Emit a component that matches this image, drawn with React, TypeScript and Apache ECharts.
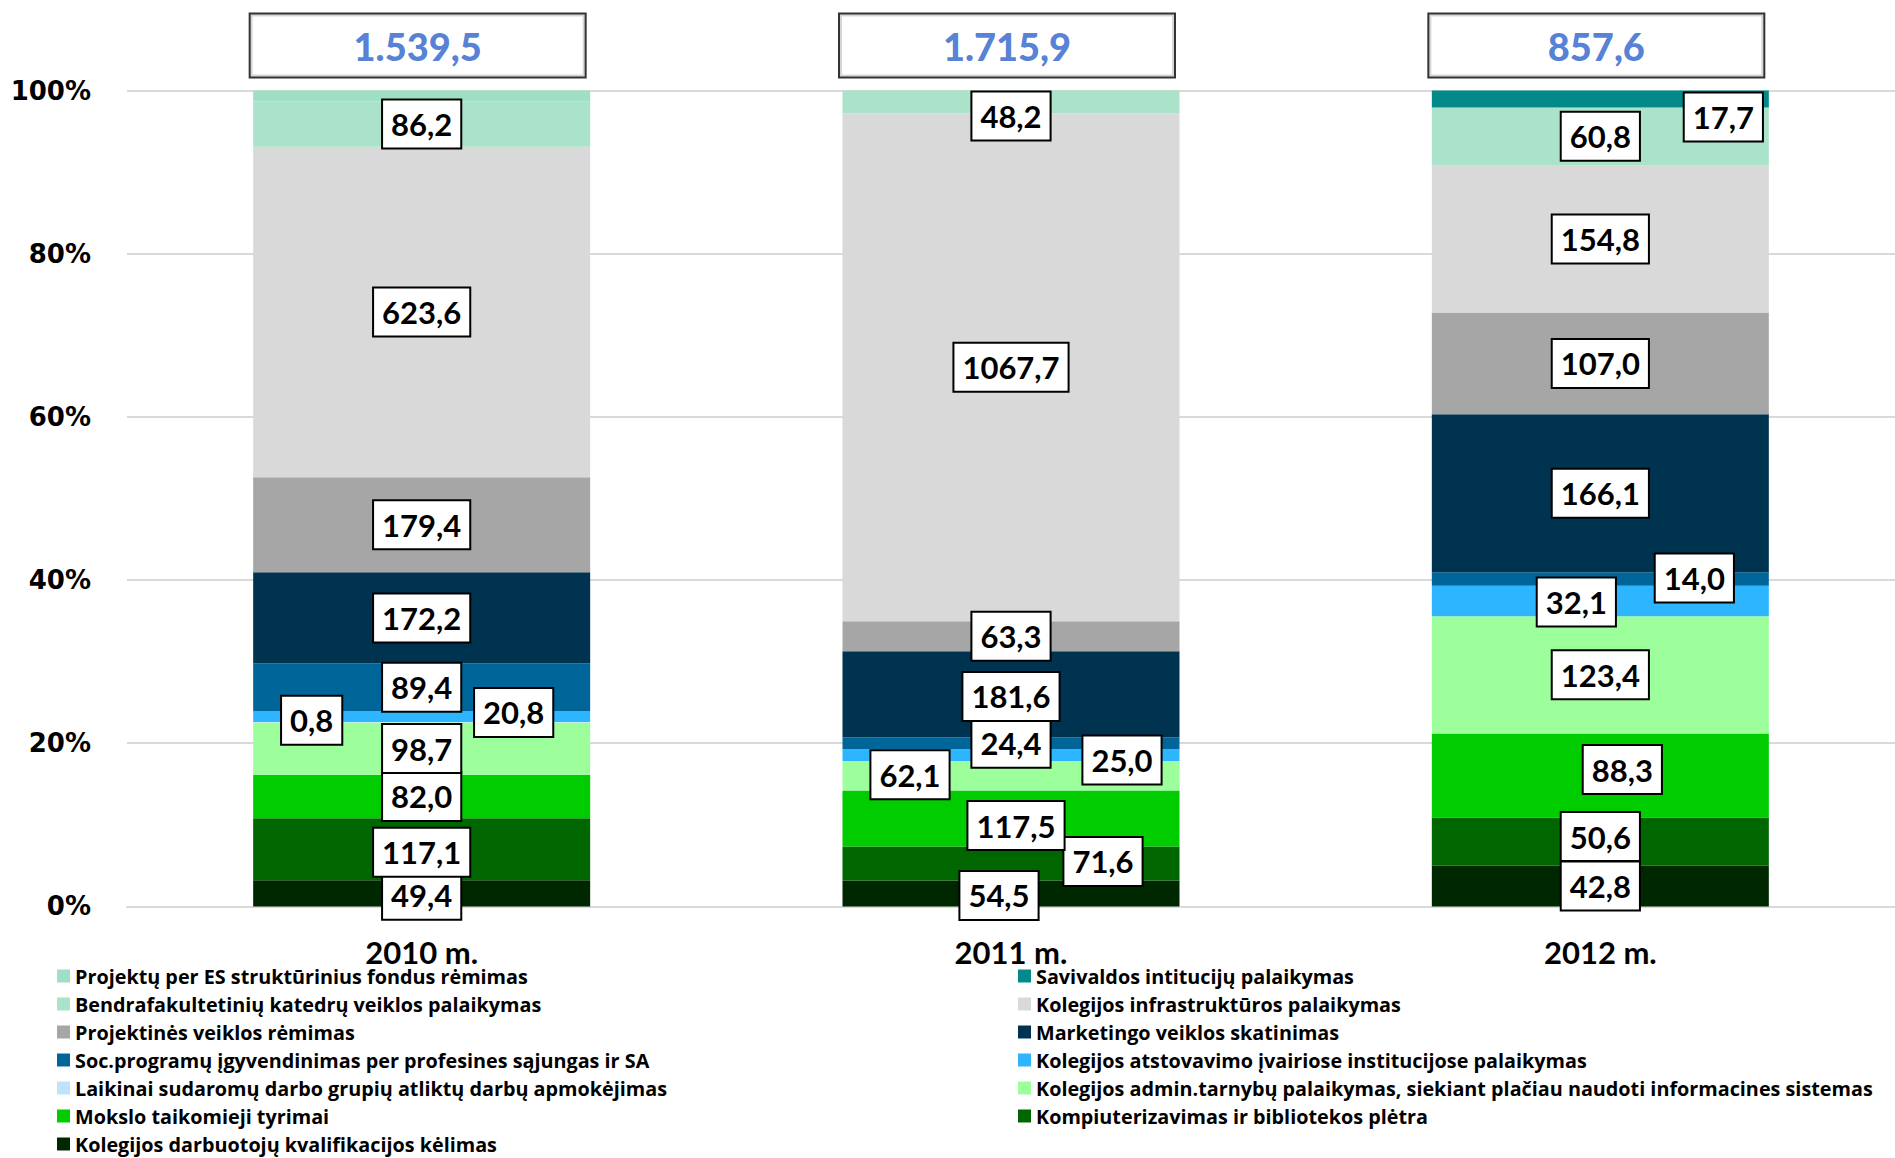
import React, { useEffect, useRef } from "react";
import * as echarts from "echarts";

const YEARS = ["2010 m.", "2011 m.", "2012 m."];
const TOTALS = [1539.5, 1715.9, 857.6];

// series, bottom of the stack first
const darbuotojuKvalifikacija = [49.4, 54.5, 42.8];
const kompiuterizavimas = [117.1, 71.6, 50.6];
const moksloTyrimai = [82.0, 117.5, 88.3];
const adminTarnybos = [98.7, 62.1, 123.4];
const laikinosGrupes = [0.8, 0, 0];
const atstovavimas = [20.8, 25.0, 32.1];
const socProgramos = [89.4, 24.4, 14.0];
const marketingas = [172.2, 181.6, 166.1];
const projektineVeikla = [179.4, 63.3, 107.0];
const infrastruktura = [623.6, 1067.7, 154.8];
const bendrafakultetines = [86.2, 48.2, 60.8];
const savivalda = [0, 0, 17.7];
const esProjektai = [19.9, 0, 0];

const SERIES = [
  { name: "Kolegijos darbuotojų kvalifikacijos kėlimas", data: darbuotojuKvalifikacija, color: "#002800" },
  { name: "Kompiuterizavimas ir bibliotekos plėtra", data: kompiuterizavimas, color: "#006600" },
  { name: "Mokslo taikomieji tyrimai", data: moksloTyrimai, color: "#00CC00" },
  { name: "Kolegijos admin.tarnybų palaikymas, siekiant plačiau naudoti informacines sistemas", data: adminTarnybos, color: "#9CFF9C" },
  { name: "Laikinai sudaromų darbo grupių atliktų darbų apmokėjimas", data: laikinosGrupes, color: "#BDE4FA" },
  { name: "Kolegijos atstovavimo įvairiose institucijose palaikymas", data: atstovavimas, color: "#2DB6FF" },
  { name: "Soc.programų įgyvendinimas per profesines sąjungas ir SA", data: socProgramos, color: "#006699" },
  { name: "Marketingo veiklos skatinimas", data: marketingas, color: "#003350" },
  { name: "Projektinės veiklos rėmimas", data: projektineVeikla, color: "#A6A6A6" },
  { name: "Kolegijos infrastruktūros palaikymas", data: infrastruktura, color: "#D9D9D9" },
  { name: "Bendrafakultetinių katedrų veiklos palaikymas", data: bendrafakultetines, color: "#ABE3CA" },
  { name: "Savivaldos intitucijų palaikymas", data: savivalda, color: "#03898A" },
  { name: "Projektų per ES struktūrinius fondus rėmimas", data: esProjektai, color: "#9FDFC3" },
];

const LEGEND_LEFT = [
  "Projektų per ES struktūrinius fondus rėmimas",
  "Bendrafakultetinių katedrų veiklos palaikymas",
  "Projektinės veiklos rėmimas",
  "Soc.programų įgyvendinimas per profesines sąjungas ir SA",
  "Laikinai sudaromų darbo grupių atliktų darbų apmokėjimas",
  "Mokslo taikomieji tyrimai",
  "Kolegijos darbuotojų kvalifikacijos kėlimas",
];
const LEGEND_RIGHT = [
  "Savivaldos intitucijų palaikymas",
  "Kolegijos infrastruktūros palaikymas",
  "Marketingo veiklos skatinimas",
  "Kolegijos atstovavimo įvairiose institucijose palaikymas",
  "Kolegijos admin.tarnybų palaikymas, siekiant plačiau naudoti informacines sistemas",
  "Kompiuterizavimas ir bibliotekos plėtra",
];

// label placement tweaks: [seriesIndex, yearIndex, dx, dy]
const LABEL_OFFSETS: [number, number, number, number][] = [
  [0, 0, 0, 2],
  [1, 0, 0, 3],
  [4, 0, -110, -2],
  [5, 0, 92, -4],
  [0, 1, -12, 2],
  [1, 1, 92, -2],
  [2, 1, 5, 7],
  [3, 1, -101, -1],
  [5, 1, 111, 5],
  [7, 1, 0, 2],
  [10, 1, 0, 14],
  [1, 2, 0, -5],
  [2, 2, 22, -6],
  [5, 2, -24, 1],
  [6, 2, 94, -1],
  [11, 2, 123, 18],
];
const HIDDEN_LABELS: [number, number][] = [[12, 0]];

const fmtValue = (v: number) => v.toFixed(1).replace(".", ",");
const fmtTotal = (v: number) => {
  const [i, d] = v.toFixed(1).split(".");
  return i.replace(/\B(?=(\d{3})+(?!\d))/g, ".") + "," + d;
};

const LABEL_FONT = "Lato, 'Open Sans', sans-serif";

export default function App() {
  const ref = useRef<HTMLDivElement>(null);

  useEffect(() => {
    document.body.style.margin = "0";
    if (!ref.current) return;
    const chart = echarts.init(ref.current, null, { renderer: "svg" });

    const barSeries = SERIES.map((s, si) => ({
      name: s.name,
      type: "bar",
      stack: "total",
      barWidth: 337,
      itemStyle: { color: s.color },
      label: {
        show: true,
        position: "inside",
        formatter: (p: any) => fmtValue(p.data.raw),
        color: "#000",
        fontFamily: LABEL_FONT,
        fontWeight: "bold",
        fontSize: 31,
        lineHeight: 34,
        backgroundColor: "#fff",
        borderColor: "#000",
        borderWidth: 2,
        padding: [7, 8, 6, 8],
      },
      data: s.data.map((v, yi) => {
        if (!v) return "-";
        const off = LABEL_OFFSETS.find((o) => o[0] === si && o[1] === yi);
        const hidden = HIDDEN_LABELS.some((h) => h[0] === si && h[1] === yi);
        return {
          value: (v / TOTALS[yi]) * 100,
          raw: v,
          label: hidden ? { show: false } : { offset: off ? [off[2], off[3]] : [0, 0] },
        };
      }),
    }));

    const totalSeries = {
      name: "total",
      type: "scatter",
      symbolSize: 0,
      z: 10,
      data: TOTALS.map(() => 100),
      label: {
        show: true,
        position: "top",
        distance: 14,
        offset: [-4, 0],
        formatter: (p: any) => fmtTotal(TOTALS[p.dataIndex]),
        color: "#2A5FCB",
        fontFamily: LABEL_FONT,
        fontWeight: 900,
        fontSize: 38,
        width: 334,
        height: 62,
        lineHeight: 62,
        align: "center",
        backgroundColor: "#fff",
        borderColor: "#000",
        borderWidth: 2,
      },
    };

    const legendBase = {
      orient: "vertical",
      top: 966,
      height: 200,
      padding: 0,
      itemGap: 8,
      itemWidth: 13,
      itemHeight: 13,
      icon: "rect",
      selectedMode: false,
      textStyle: {
        fontFamily: "'Open Sans', Lato, sans-serif",
        fontWeight: "bold",
        fontSize: 19.8,
        lineHeight: 20,
        color: "#000",
      },
    };

    chart.setOption({
      animation: false,
      backgroundColor: "#fff",
      grid: { left: 127, right: 0, top: 90.6, bottom: 251.6, containLabel: false },
      legend: [
        { ...legendBase, left: 57, data: LEGEND_LEFT },
        { ...legendBase, left: 1018, data: LEGEND_RIGHT },
      ],
      xAxis: {
        type: "category",
        data: YEARS,
        axisLine: { lineStyle: { color: "#D9D9D9", width: 2 } },
        axisTick: { show: false },
        axisLabel: {
          color: "#000",
          fontFamily: LABEL_FONT,
          fontWeight: "bold",
          fontSize: 31,
          lineHeight: 31,
          margin: 30,
        },
      },
      yAxis: {
        type: "value",
        min: 0,
        max: 100,
        interval: 20,
        axisLine: { show: false },
        axisTick: { show: false },
        splitLine: { lineStyle: { color: "#D9D9D9", width: 2 } },
        axisLabel: {
          formatter: "{value}%",
          color: "#000",
          fontFamily: "'DejaVu Sans', sans-serif",
          fontWeight: "bold",
          fontSize: 26,
          margin: 36,
        },
      },
      series: [...barSeries, totalSeries],
    });

    return () => chart.dispose();
  }, []);

  return <div ref={ref} style={{ width: 1895, height: 1158 }} />;
}
